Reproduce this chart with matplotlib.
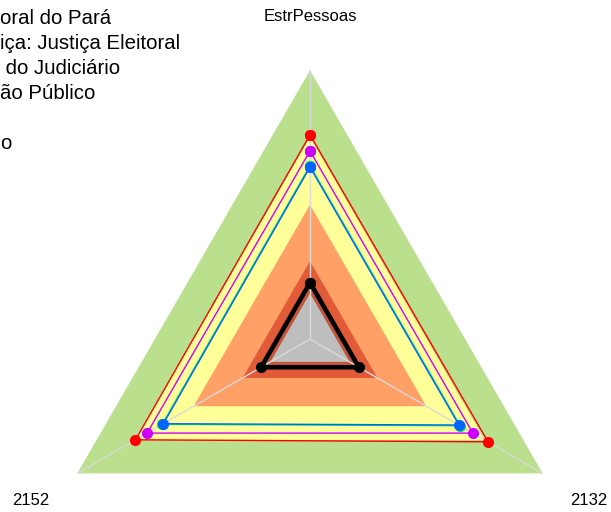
import matplotlib
matplotlib.use("Agg")
import matplotlib.pyplot as plt
import numpy as np

plt.rcParams['font.family'] = ['Liberation Sans', 'DejaVu Sans']

# eixos do radar (sentido horario a partir do topo)
eixos = ["EstrPessoas", "2132", "2152"]

# faixas de fundo (raio, cor), de fora para dentro
faixas_r = [1.0, 0.75, 0.5, 0.29, 0.2, 0.17]
faixas_cor = ['#BAE08D', '#FFFF99', '#FFA066', '#E25B38', '#C4553D', '#BEBEBE']

# series (EstrPessoas, 2132, 2152)
org = [0.21, 0.21, 0.21]
serie_vermelha = [0.76, 0.765, 0.75]
serie_magenta = [0.70, 0.70, 0.70]
serie_verde = [0.645, 0.645, 0.635]
serie_azul = [0.64, 0.64, 0.63]

legenda = ["oral do Pará", "iça: Justiça Eleitoral", " do Judiciário",
           "ão Público", "", "o"]

ang = np.linspace(0, 2 * np.pi, len(eixos), endpoint=False)
ang_f = np.append(ang, ang[0])

def fecha(v):
    return np.append(v, v[0])

fig = plt.figure(figsize=(6.11, 5.12), dpi=100)
ax = fig.add_axes([0.0676, -0.187, 0.8795, 1.0496], projection='polar')
ax.set_theta_offset(np.pi / 2)
ax.set_theta_direction(-1)
ax.set_ylim(0, 1)
ax.patch.set_visible(False)
ax.spines['polar'].set_visible(False)
ax.set_yticks([])
ax.set_xticks(ang)
ax.set_xticklabels([])
ax.xaxis.grid(True, color='#D9D9D9', lw=1)
ax.yaxis.grid(False)

for r, c in zip(faixas_r, faixas_cor):
    ax.fill(ang_f, [r] * len(ang_f), color=c, lw=0, zorder=1)

hs = []
hs += ax.plot(ang_f, fecha(org), color='black', lw=3.3, marker='o', ms=7, zorder=5)
hs += ax.plot(ang_f, fecha(serie_vermelha), color='#FF0000', lw=1, marker='o', ms=7, zorder=3)
hs += ax.plot(ang_f, fecha(serie_magenta), color='#CC00FF', lw=1, marker='o', ms=7, zorder=3)
hs += ax.plot(ang_f, fecha(serie_verde), color='#00DD66', lw=1, marker='o', ms=7, zorder=3)
h0, = ax.plot([], [], color='none')
hs += ax.plot(ang_f, fecha(serie_azul), color='#0066FF', lw=1, marker='o', ms=7, zorder=3)

for a, nome in zip(ang, eixos):
    ax.text(a, 1.2, nome, ha='center', va='center', fontsize=12)

leg = fig.legend(hs[:4] + [h0] + hs[4:], legenda, loc='upper left',
                 bbox_to_anchor=(0.0, 0.983), frameon=False, fontsize=14.7,
                 handlelength=0, handletextpad=0, borderpad=0,
                 borderaxespad=0, labelspacing=0.3)
for h in leg.legend_handles:
    h.set_visible(False)

fig.savefig("out.png", dpi=100)
